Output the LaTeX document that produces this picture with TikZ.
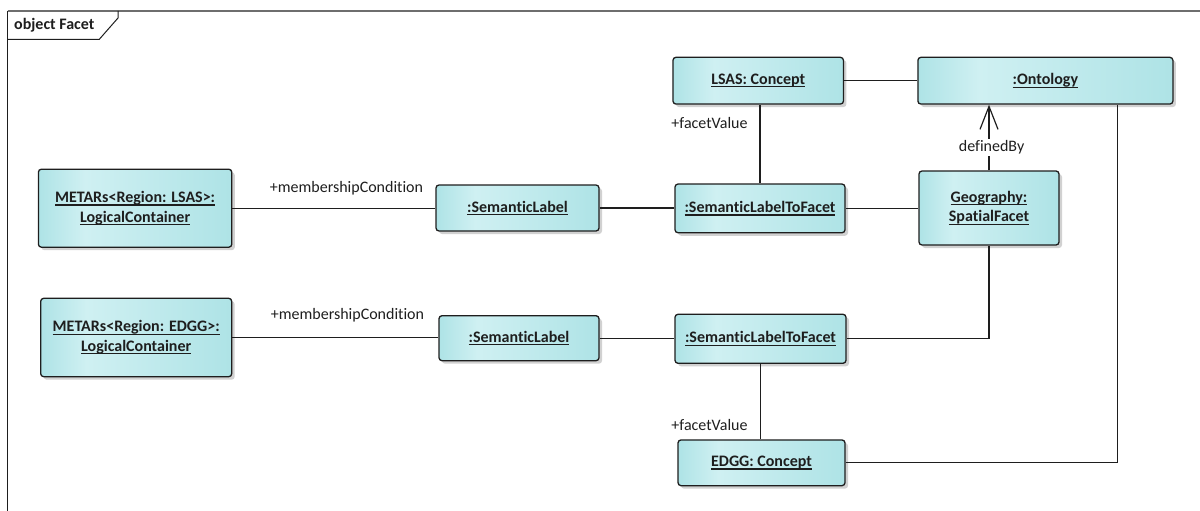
\documentclass[tikz,border=0pt]{standalone}
\usepackage{fontspec}
\setmainfont{Carlito}[Ligatures={NoCommon}]
\usetikzlibrary{arrows.meta,shadows,calc}

\definecolor{objEdge}{HTML}{AEE3E6}
\definecolor{objMid}{HTML}{CFF0F2}
\definecolor{inkLine}{HTML}{1E1E1E}
\definecolor{frameTop}{HTML}{6E6E6E}

% light band a quarter of the way across each object box
\pgfdeclarehorizontalshading{objshade}{100bp}{%
  color(0bp)=(objEdge); color(25bp)=(objEdge); color(37bp)=(objMid);
  color(75bp)=(objEdge); color(100bp)=(objEdge)}

% underlined object name with a fixed rule
\newcommand{\objname}[1]{\setbox0\hbox{#1}\leavevmode\rlap{\rule[-3pt]{\wd0}{1.1pt}}\box0}

\tikzset{
  objbox/.style={draw=inkLine, line width=1.3pt, rounded corners=3pt,
    shade, shading=objshade, inner sep=0pt, align=center,
    font=\fontsize{16}{19.6}\selectfont\bfseries, text=inkLine,
    drop shadow={shadow xshift=3pt, shadow yshift=-3pt, fill=black, opacity=0.18}},
  conn/.style={draw=inkLine, line width=1.2pt},
  rolelabel/.style={font=\fontsize{16}{19.6}\selectfont, text=inkLine, inner sep=0pt},
}

\begin{document}
\begin{tikzpicture}[x=1pt,y=-1pt]
\useasboundingbox (0,0) rectangle (1200,511);

% diagram frame and its name tab
\draw[frameTop, line width=1.3pt] (7.5,11) -- (1220,11);
\draw[inkLine, line width=1.3pt] (7.5,11) -- (7.5,530);
\draw[inkLine, line width=1pt] (7.5,39.3) -- (99.3,39.3) -- (118,18) -- (118,11);
\node[anchor=west, inner sep=0pt, font=\fontsize{16}{19.6}\selectfont\bfseries, text=inkLine]
  (frameName) at (14,25) {object Facet};

% objects
\node[objbox, minimum width=193.4pt, minimum height=78pt] (ml) at (135.1,208.2)
  {\objname{METARs<Region: LSAS>:}\\\objname{LogicalContainer}};
\node[objbox, minimum width=191pt, minimum height=78.4pt] (me) at (136.2,337.5)
  {\objname{METARs<Region: EDGG>:}\\\objname{LogicalContainer}};
\node[objbox, minimum width=163pt, minimum height=46pt] (sl1) at (517.5,208)
  {\objname{:SemanticLabel}};
\node[objbox, minimum width=160pt, minimum height=45pt] (sl2) at (519,338.2)
  {\objname{:SemanticLabel}};
\node[objbox, minimum width=170pt, minimum height=48.7pt] (st1) at (760,208.4)
  {\objname{:SemanticLabelToFacet}};
\node[objbox, minimum width=171pt, minimum height=49pt] (st2) at (760.5,338.8)
  {\objname{:SemanticLabelToFacet}};
\node[objbox, minimum width=170.5pt, minimum height=46.7pt] (lc) at (758.2,80.7)
  {\objname{LSAS: Concept}};
\node[objbox, minimum width=255pt, minimum height=46.7pt] (on) at (1045.4,80.7)
  {\objname{:Ontology}};
\node[objbox, minimum width=140pt, minimum height=74pt] (geo) at (989,208)
  {\objname{Geography:}\\\objname{SpatialFacet}};
\node[objbox, minimum width=167pt, minimum height=45.7pt] (ec) at (761.5,462.8)
  {\objname{EDGG: Concept}};

% links
\draw[conn] (ml.east) -- (ml.east -| sl1.west);
\draw[conn] (sl1.east) -- (sl1.east -| st1.west);
\draw[conn] (st1.east) -- (st1.east -| geo.west);
\draw[conn] (lc.east) -- (lc.east -| on.west);
\draw[conn] (st1.north) -- (st1.north |- lc.south);
\draw[conn, -{Straight Barb[length=23pt, width=18pt]}] (geo.north) -- (geo.north |- on.south);
\draw[conn] (geo.south) |- (st2.east);
\draw[conn] (me.east) -- (me.east -| sl2.west);
\draw[conn] (sl2.east) -- (sl2.east -| st2.west);
\draw[conn] (st2.south) -- (st2.south |- ec.north);
\coordinate (onFoot) at ([xshift=-56.4pt]on.south east);
\draw[conn] (ec.east) -| (onFoot);

% role names
\node[rolelabel] (mc1) at (346.5,188.3) {+membershipCondition};
\node[rolelabel] (mc2) at (347.5,315) {+membershipCondition};
\node[rolelabel] (fv1) at (709.5,123.3) {+facetValue};
\node[rolelabel] (fv2) at (709.5,425) {+facetValue};
\node[rolelabel, fill=white, inner sep=1.5pt] (db) at (991.6,147.3) {definedBy};
\end{tikzpicture}
\end{document}
